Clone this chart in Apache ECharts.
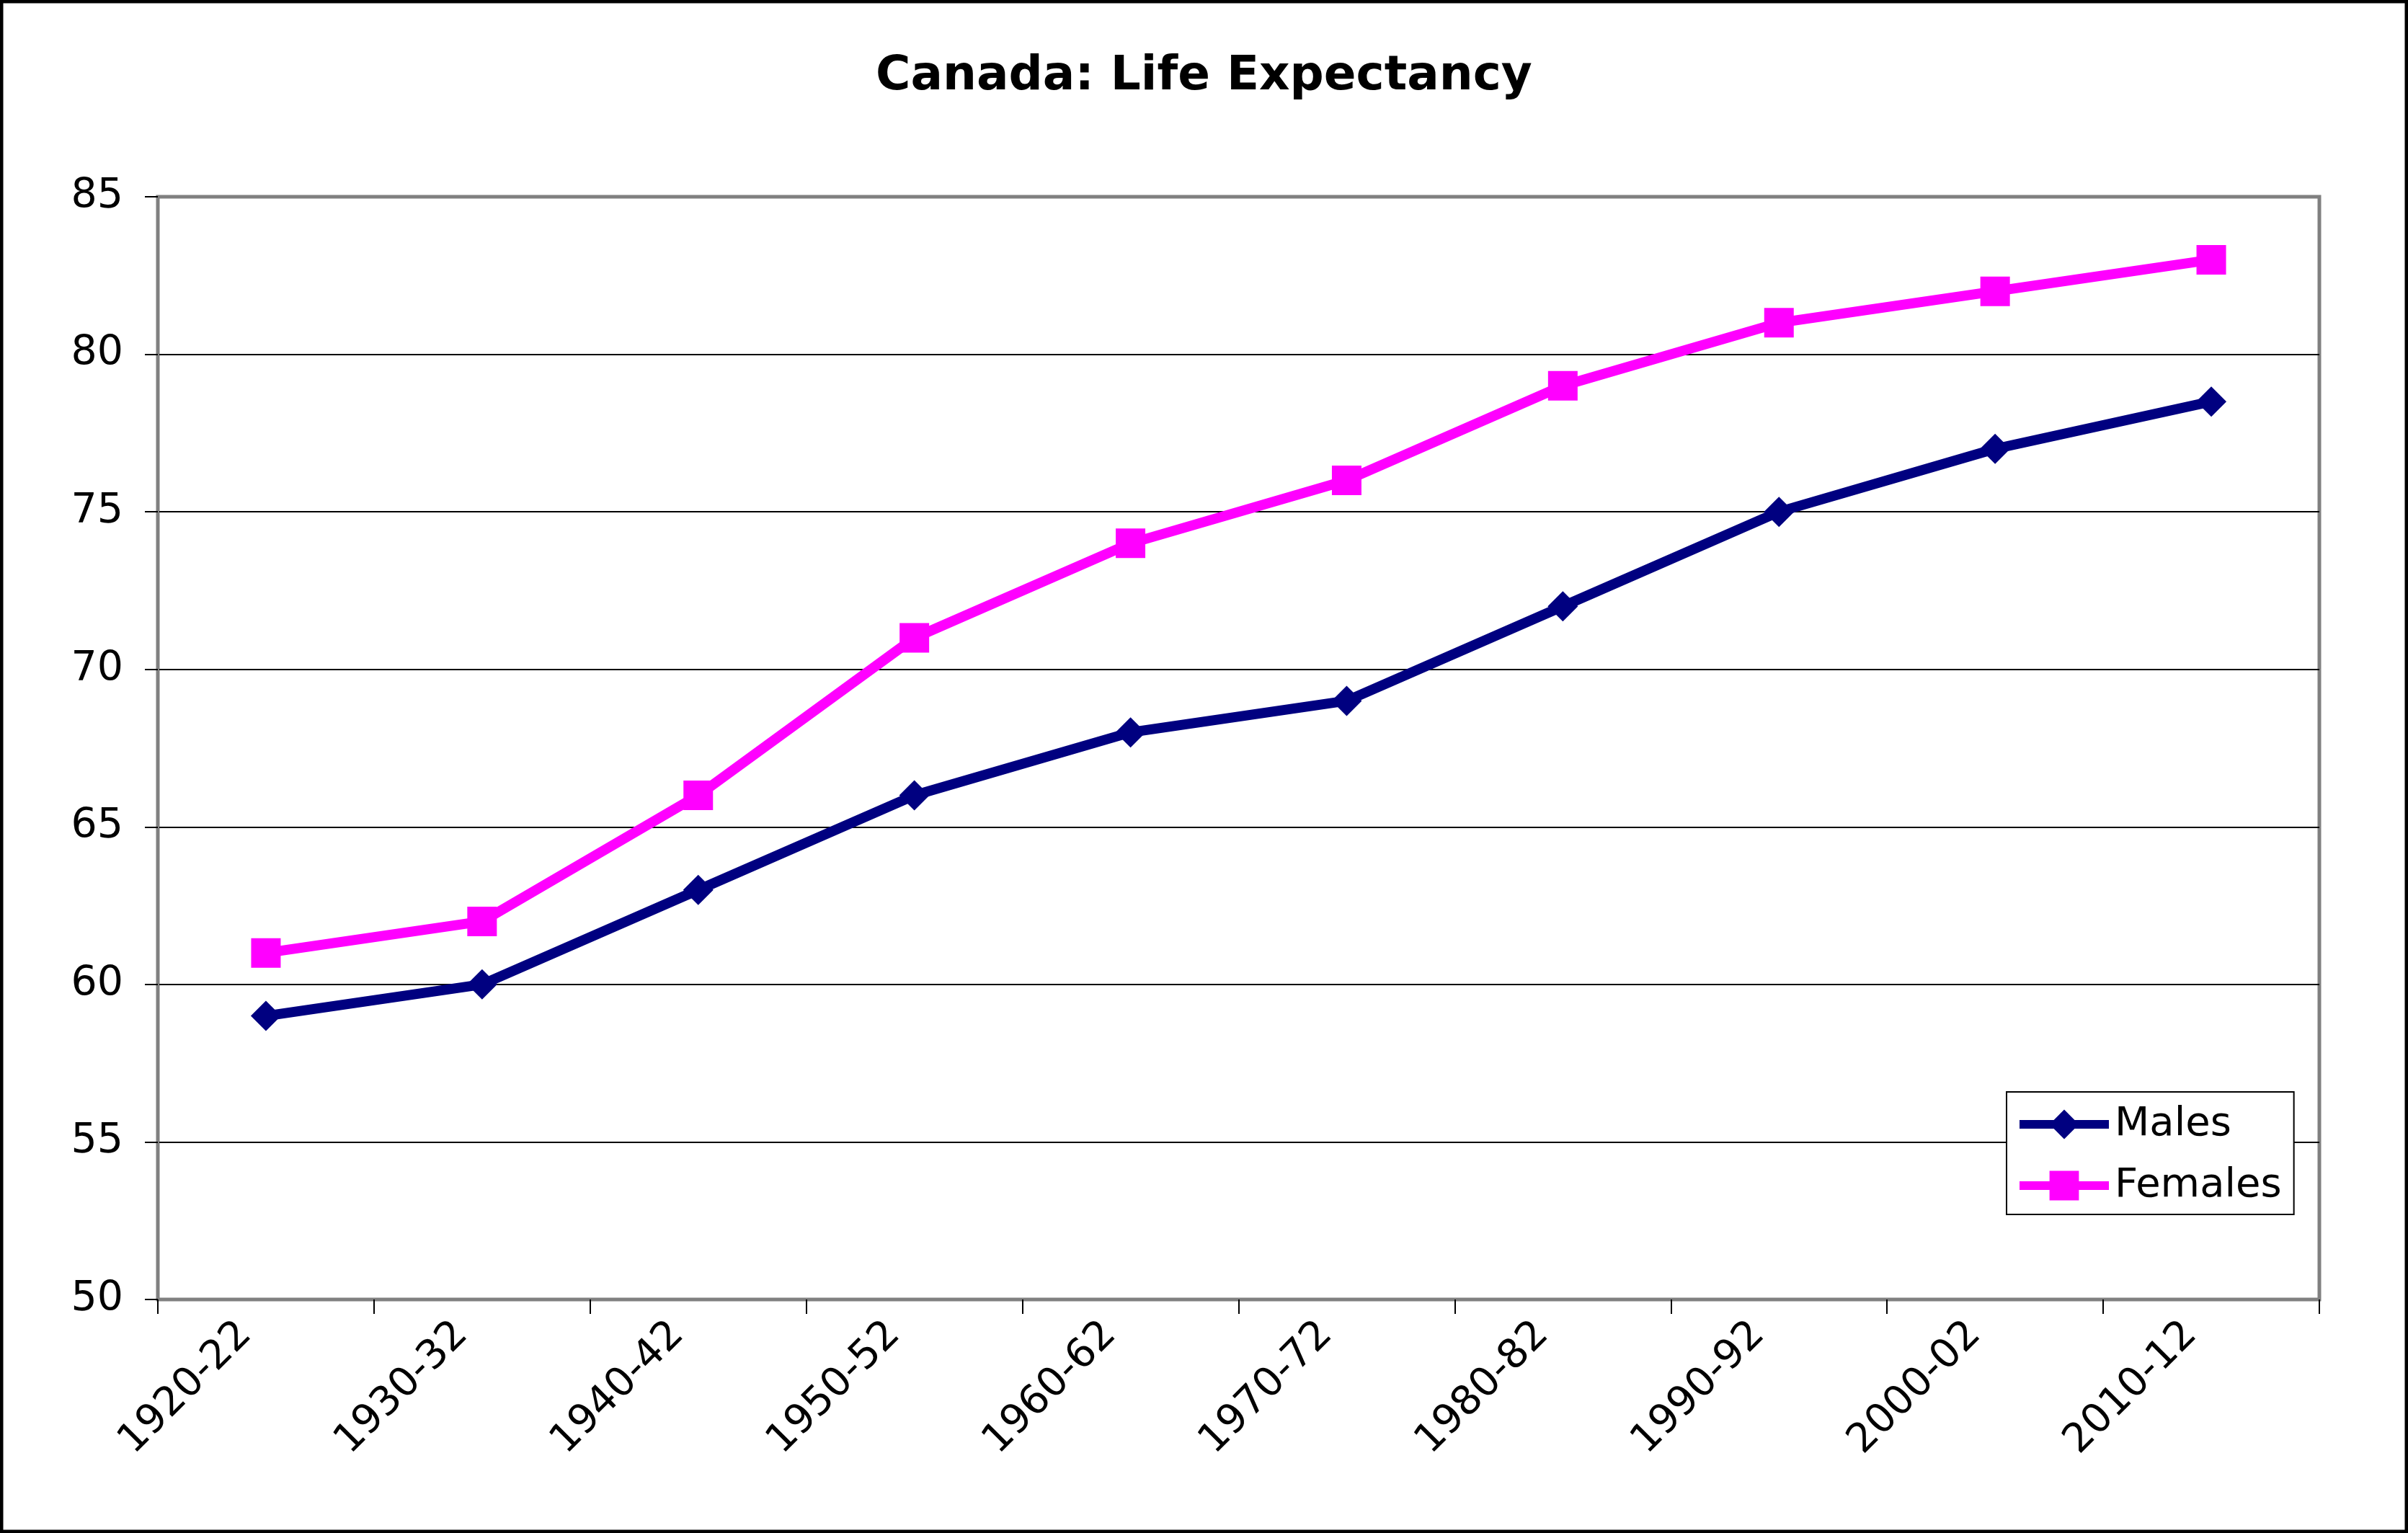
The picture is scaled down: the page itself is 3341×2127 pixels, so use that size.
<!DOCTYPE html>
<html>
<head>
<meta charset="utf-8">
<script src="https://cdn.jsdelivr.net/npm/echarts@6/dist/echarts.min.js"></script>
<style>
html,body{margin:0;padding:0;background:#fff;}
#chart{position:absolute;left:0;top:0;width:3341px;height:2127px;}
</style>
</head>
<body>
<div id="chart"></div>
<script>
const categories = ['1920-22','1930-32','1940-42','1950-52','1960-62','1970-72','1980-82','1990-92','2000-02','2010-12'];
const males = [59, 60, 63, 66, 68, 69, 72, 75, 77, 78.5];
const females = [61, 62, 66, 71, 74, 76, 79, 81, 82, 83];
const titleText = 'Canada: Life Expectancy';
const seriesNames = ['Males', 'Females'];

const FONT = 'DejaVu Sans';
const chart = echarts.init(document.getElementById('chart'), null, {renderer: 'canvas'});
chart.setOption({
  animation: false,
  backgroundColor: '#ffffff',
  title: {
    text: titleText,
    left: 'center',
    top: 69,
    textStyle: {fontFamily: FONT, fontWeight: 'bold', fontSize: 66, color: '#000'}
  },
  legend: {
    orient: 'vertical',
    left: 2784,
    top: 1515,
    padding: [17, 17, 12, 12],
    itemGap: 29,
    itemWidth: 124,
    itemHeight: 51,
    borderColor: '#000',
    borderWidth: 2,
    backgroundColor: '#fff',
    lineStyle: {width: 12},
    textStyle: {fontFamily: FONT, fontSize: 56, color: '#000', padding: [0, 0, 0, 3]},
    data: seriesNames
  },
  grid: {
    left: 219, right: 123, top: 273, bottom: 324,
    show: true, borderColor: '#808080', borderWidth: 5, containLabel: false
  },
  xAxis: {
    type: 'category',
    data: categories,
    boundaryGap: true,
    axisLine: {show: true, lineStyle: {color: '#808080', width: 4}},
    axisTick: {show: true, length: 20, inside: false, lineStyle: {color: '#000', width: 2}},
    axisLabel: {
      rotate: 45, margin: 12, interval: 0,
      fontFamily: FONT, fontSize: 56, color: '#000',
      padding: [0, 40, 0, 0]
    },
    splitLine: {show: false}
  },
  yAxis: {
    type: 'value',
    min: 50, max: 85, interval: 5,
    axisLine: {show: true, lineStyle: {color: '#808080', width: 4}},
    axisTick: {show: true, length: 18, inside: false, lineStyle: {color: '#000', width: 2}},
    axisLabel: {margin: 48, fontFamily: FONT, fontSize: 57, color: '#000'},
    splitLine: {show: true, showMinLine: false, showMaxLine: false, lineStyle: {color: '#000', width: 2}}
  },
  series: [
    {
      name: seriesNames[0], type: 'line', data: males,
      symbol: 'diamond', symbolSize: 42,
      lineStyle: {color: '#000080', width: 14},
      itemStyle: {color: '#000080'}
    },
    {
      name: seriesNames[1], type: 'line', data: females,
      symbol: 'rect', symbolSize: 41,
      lineStyle: {color: '#FF00FF', width: 14},
      itemStyle: {color: '#FF00FF'}
    }
  ],
  graphic: [{
    type: 'rect', z: 100, silent: true,
    shape: {x: 2, y: 2, width: 3337, height: 2123},
    style: {fill: 'none', stroke: '#000', lineWidth: 5}
  }]
});
</script>
</body>
</html>
